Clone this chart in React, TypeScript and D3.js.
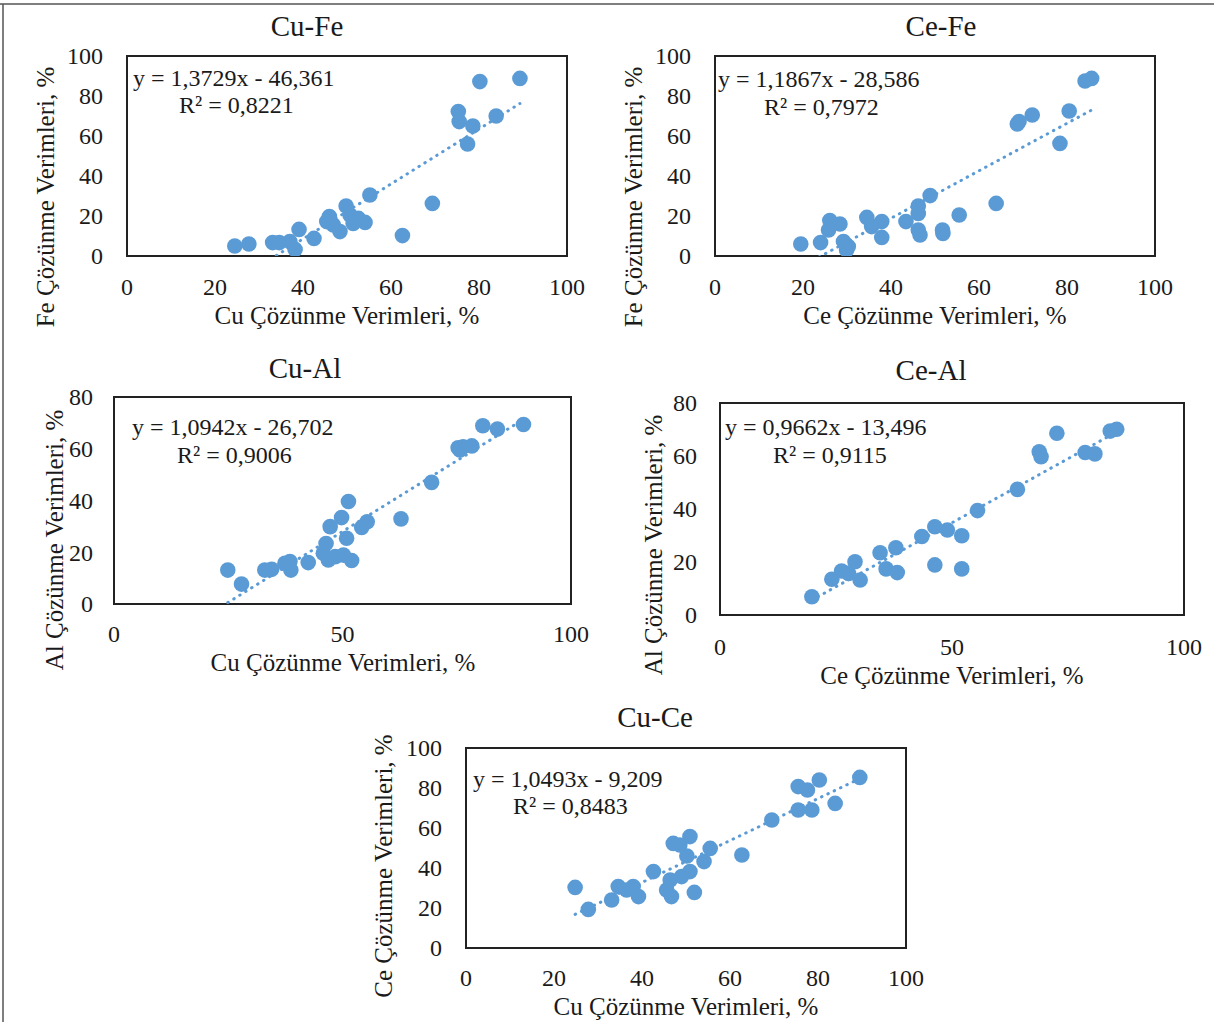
import React from "react";
import * as d3 from "d3";

// ---------- DATA ----------
const cuFeX = [80.2, 89.3, 75.3, 75.5, 78.6, 83.9, 77.4, 69.4, 62.6, 55.2, 54.1, 46.0, 45.4, 46.9, 48.4, 49.8, 50.7, 51.4, 52.6, 39.1, 42.5, 33.1, 34.6, 37.0, 38.2, 24.5, 27.7];
const cuFeY = [87.2, 88.8, 72.2, 67.2, 65.0, 70.0, 56.0, 26.3, 10.2, 30.5, 16.8, 19.7, 17.2, 15.5, 12.2, 25.0, 20.5, 16.3, 18.8, 13.3, 8.8, 6.7, 6.7, 7.2, 3.3, 5.0, 6.0];

const ceFeX = [84.1, 85.6, 68.7, 69.1, 72.1, 80.5, 78.4, 63.9, 55.5, 51.7, 51.8, 48.9, 46.2, 46.2, 46.2, 46.6, 43.4, 37.9, 37.9, 34.5, 35.6, 26.1, 28.4, 25.8, 29.2, 30.3, 29.9, 24.0, 19.5];
const ceFeY = [87.5, 88.8, 66.0, 67.2, 70.5, 72.5, 56.3, 26.3, 20.5, 13.0, 11.3, 30.2, 25.0, 21.3, 13.0, 10.5, 17.2, 17.2, 9.3, 19.3, 14.7, 17.7, 16.0, 13.0, 7.2, 4.7, 3.0, 6.7, 6.0];

const cuAlX = [89.6, 80.7, 83.9, 75.3, 76.4, 78.3, 75.7, 69.5, 62.8, 51.3, 49.8, 47.3, 50.9, 54.2, 55.4, 46.4, 45.8, 46.9, 48.4, 50.2, 52.0, 42.5, 38.5, 37.4, 38.7, 33.0, 34.5, 24.9, 27.9];
const cuAlY = [69.4, 68.9, 67.6, 60.4, 60.8, 61.1, 59.5, 47.0, 32.9, 39.6, 33.4, 29.9, 25.4, 29.6, 31.8, 23.4, 19.6, 17.0, 18.3, 18.9, 16.8, 16.0, 16.4, 15.7, 13.1, 13.1, 13.4, 13.1, 7.7];

const ceAlX = [85.5, 84.1, 72.6, 68.8, 69.2, 78.7, 80.8, 64.1, 55.5, 46.3, 49.0, 52.1, 43.5, 37.9, 34.5, 46.3, 52.1, 35.8, 38.2, 29.1, 26.2, 27.7, 30.2, 24.1, 19.8];
const ceAlY = [70.1, 69.4, 68.6, 61.6, 59.7, 61.3, 60.8, 47.4, 39.4, 33.3, 32.1, 29.9, 29.6, 25.4, 23.5, 18.9, 17.4, 17.4, 16.0, 20.1, 16.6, 15.7, 13.2, 13.5, 6.9];

const cuCeX = [89.5, 80.3, 75.5, 77.6, 83.9, 75.5, 78.6, 69.5, 62.7, 55.5, 54.1, 50.9, 47.1, 48.6, 50.2, 50.9, 49.0, 46.4, 45.6, 46.7, 51.9, 42.6, 38.0, 39.2, 34.6, 33.1, 36.5, 24.8, 27.8];
const cuCeY = [85.3, 84.0, 80.7, 79.0, 72.3, 69.0, 69.0, 64.0, 46.5, 49.8, 43.2, 55.7, 52.3, 51.5, 46.0, 38.2, 35.7, 34.0, 29.0, 25.7, 27.8, 38.2, 30.7, 25.7, 30.7, 24.0, 29.0, 30.3, 19.3];

const titles = ["Cu-Fe", "Ce-Fe", "Cu-Al", "Ce-Al", "Cu-Ce"];
const xLabels = ["Cu Çözünme Verimleri, %", "Ce Çözünme Verimleri, %", "Cu Çözünme Verimleri, %", "Ce Çözünme Verimleri, %", "Cu Çözünme Verimleri, %"];
const yLabels = ["Fe Çözünme Verimleri, %", "Fe Çözünme Verimleri, %", "Al Çözünme Verimleri, %", "Al Çözünme Verimleri, %", "Ce Çözünme Verimleri, %"];
const slopes = [1.3729, 1.1867, 1.0942, 0.9662, 1.0493];
const intercepts = [-46.361, -28.586, -26.702, -13.496, -9.209];
const eqTexts = ["y = 1,3729x - 46,361", "y = 1,1867x - 28,586", "y = 1,0942x - 26,702", "y = 0,9662x - 13,496", "y = 1,0493x - 9,209"];
const r2Texts = ["R² = 0,8221", "R² = 0,7972", "R² = 0,9006", "R² = 0,9115", "R² = 0,8483"];
const xTicks20 = [0, 20, 40, 60, 80, 100];
const xTicks50 = [0, 50, 100];
const yTicks100 = [0, 20, 40, 60, 80, 100];
const yTicks80 = [0, 20, 40, 60, 80];

const seriesX = [cuFeX, ceFeX, cuAlX, ceAlX, cuCeX];
const seriesY = [cuFeY, ceFeY, cuAlY, ceAlY, cuCeY];
const xTickSets = [xTicks20, xTicks20, xTicks50, xTicks50, xTicks20];
const yTickSets = [yTicks100, yTicks100, yTicks80, yTicks80, yTicks100];

// ---------- LAYOUT ----------
const layout = [
  { x0: 127, x1: 567, y0: 56, y1: 256, titleX: 307, titleY: 36, xtY: 295, xlX: 347, xlY: 324, ylX: 45, ylY: 197, ytX: 103, eqX: 133, eqY: 86, r2X: 179, r2Y: 113 },
  { x0: 715, x1: 1155, y0: 56, y1: 256, titleX: 941, titleY: 36, xtY: 295, xlX: 935, xlY: 324, ylX: 633, ylY: 197, ytX: 691, eqX: 718, eqY: 87, r2X: 764, r2Y: 115 },
  { x0: 114, x1: 571, y0: 397, y1: 604, titleX: 305, titleY: 378, xtY: 642, xlX: 343, xlY: 671, ylX: 54, ylY: 540, ytX: 93, eqX: 132, eqY: 435, r2X: 177, r2Y: 463 },
  { x0: 720, x1: 1184, y0: 403, y1: 615, titleX: 931, titleY: 380, xtY: 655, xlX: 952, xlY: 684, ylX: 653, ylY: 545, ytX: 697, eqX: 725, eqY: 435, r2X: 773, r2Y: 463 },
  { x0: 466, x1: 906, y0: 748, y1: 948, titleX: 655, titleY: 727, xtY: 986, xlX: 686, xlY: 1015, ylX: 383, ylY: 866, ytX: 442, eqX: 473, eqY: 787, r2X: 513, r2Y: 814 },
];

const BLUE = "#5B9BD5";
const FONT = "'Liberation Serif', 'Times New Roman', serif";
const TXT = "#1a1a1a";

function Panel({ i }: { i: number }) {
  const L = layout[i];
  const xs = seriesX[i];
  const ys = seriesY[i];
  const yTicks = yTickSets[i];
  const yMax = yTicks[yTicks.length - 1];
  const x = d3.scaleLinear().domain([0, 100]).range([L.x0, L.x1]);
  const y = d3.scaleLinear().domain([0, yMax]).range([L.y1, L.y0]);
  const pts = xs.map((v, k) => [v, ys[k]] as [number, number]);
  const [xmin, xmax] = d3.extent(xs) as [number, number];
  const trend = [xmin, xmax].map((v) => [v, slopes[i] * v + intercepts[i]] as [number, number]);
  const line = d3.line<[number, number]>().x((d) => x(d[0])).y((d) => y(d[1]));
  const clipId = `clip${i}`;
  return (
    <g>
      <defs>
        <clipPath id={clipId}>
          <rect x={L.x0} y={L.y0} width={L.x1 - L.x0} height={L.y1 - L.y0} />
        </clipPath>
      </defs>
      <rect x={L.x0} y={L.y0} width={L.x1 - L.x0} height={L.y1 - L.y0} fill="#fff" stroke="#222" strokeWidth={2} />
      <g clipPath={`url(#${clipId})`}>
        <path d={line(trend) || ""} fill="none" stroke={BLUE} strokeWidth={3} strokeDasharray="0.5 6.5" strokeLinecap="round" />
        {pts.map((p, k) => (
          <circle key={k} cx={x(p[0])} cy={y(p[1])} r={7.8} fill={BLUE} />
        ))}
      </g>
      <text x={L.eqX} y={L.eqY} fontSize={24} fontFamily={FONT} fill={TXT}>{eqTexts[i]}</text>
      <text x={L.r2X} y={L.r2Y} fontSize={24} fontFamily={FONT} fill={TXT}>{r2Texts[i]}</text>
      {xTickSets[i].map((t) => (
        <text key={"xt" + t} x={x(t)} y={L.xtY} textAnchor="middle" fontSize={24} fontFamily={FONT} fill={TXT}>{t}</text>
      ))}
      {yTicks.map((t) => (
        <text key={"yt" + t} x={L.ytX} y={y(t)} dy="0.35em" textAnchor="end" fontSize={24} fontFamily={FONT} fill={TXT}>{t}</text>
      ))}
      <text x={L.titleX} y={L.titleY} textAnchor="middle" fontSize={29} fontFamily={FONT} fill={TXT}>{titles[i]}</text>
      <text x={L.xlX} y={L.xlY} textAnchor="middle" fontSize={25} fontFamily={FONT} fill={TXT}>{xLabels[i]}</text>
      <text transform={`translate(${L.ylX},${L.ylY}) rotate(-90)`} dy="0.35em" textAnchor="middle" fontSize={25} fontFamily={FONT} fill={TXT}>{yLabels[i]}</text>
    </g>
  );
}

export default function App() {
  return (
    <svg width={1214} height={1022} style={{ position: "absolute", left: 0, top: 0, background: "#fff" }}>
      <rect x={0} y={0} width={1214} height={1022} fill="#fff" />
      <line x1={0} y1={4} x2={1214} y2={4} stroke="#555" strokeWidth={1.5} />
      <line x1={3} y1={4} x2={3} y2={1022} stroke="#555" strokeWidth={1.5} />
      {titles.map((_, i) => (
        <Panel key={i} i={i} />
      ))}
    </svg>
  );
}
